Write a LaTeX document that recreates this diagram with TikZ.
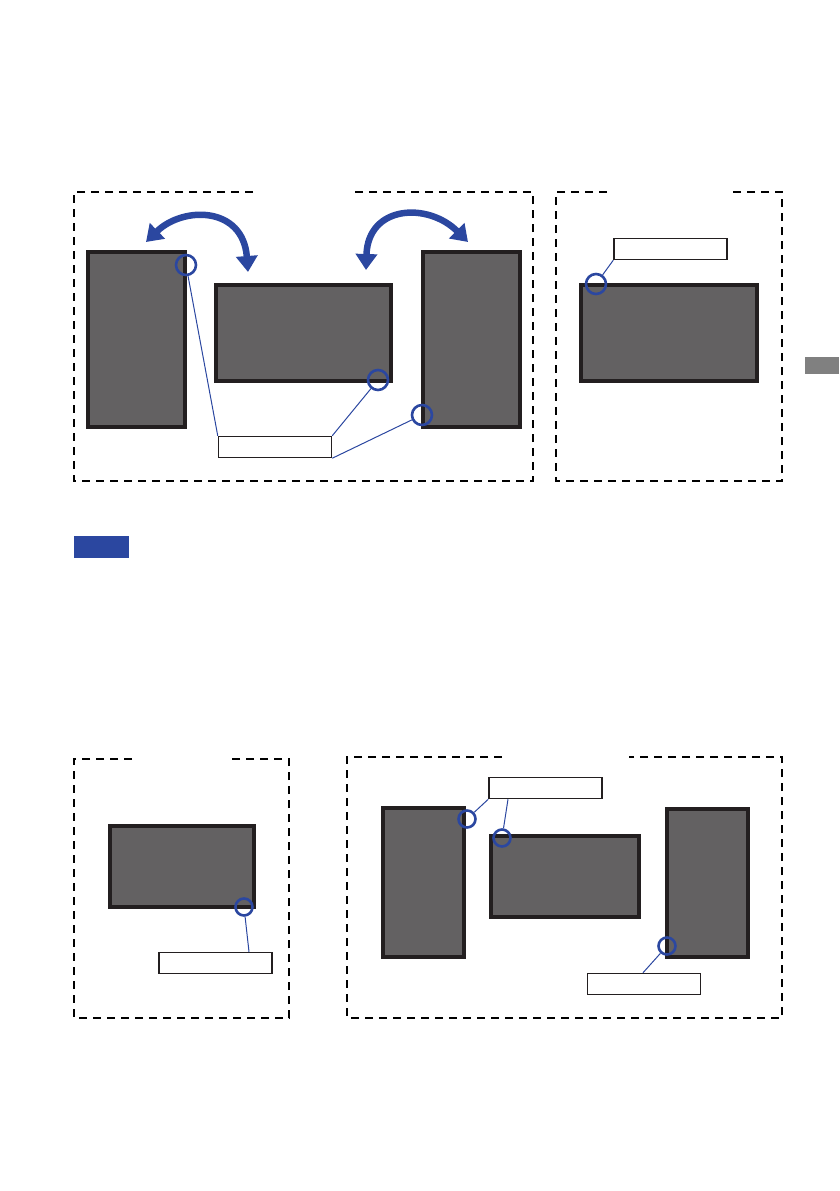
\documentclass[tikz,border=0pt]{standalone}
\usepackage{tikz}
\usetikzlibrary{positioning, arrows.meta}

\definecolor{ringblue}{HTML}{2B47A0}
\definecolor{panelgrey}{HTML}{636162}
\definecolor{panelrim}{HTML}{231F20}
\definecolor{tabgrey}{HTML}{808080}

\begin{document}
\begin{tikzpicture}[
      x=1pt, y=-1pt,
      frame_line/.style={draw=black, line width=1.3pt, dash pattern=on 8pt off 6pt},
      panel_box/.style={rectangle, draw=panelrim, fill=panelgrey, line width=4pt, inner sep=0pt},
      ring_node/.style={circle, draw=ringblue, line width=2.6pt, minimum size=20pt, inner sep=0pt},
      ring_small/.style={ring_node, minimum size=17pt},
      tag_box/.style={rectangle, draw=panelrim, fill=white, line width=1.5pt, minimum width=113pt, minimum height=21pt, inner sep=0pt},
      lead_line/.style={draw=ringblue, line width=1pt},
      swing_arrow/.style={draw=ringblue, line width=6.5pt, {Triangle[width=21pt, length=16pt]}-{Triangle[width=21pt, length=16pt]}}
    ]
      \useasboundingbox (0,0) rectangle (839,1191);

      % frames
      \draw[frame_line] (253,192) -- (74,192) -- (74,481) -- (533,481) -- (533,192) -- (353,192);
      \draw[frame_line] (607,192) -- (556,192) -- (556,481) -- (782,481) -- (782,192) -- (731,192);
      \draw[frame_line] (132,759) -- (74,759) -- (74,1018) -- (289,1018) -- (289,759) -- (232,759);
      \draw[frame_line] (502,757) -- (347,757) -- (347,1018) -- (782,1018) -- (782,757) -- (629,757);

      % side tab and note bar
      \fill[tabgrey] (805,357) rectangle (839,374);
      \node[rectangle, fill=ringblue, minimum width=55pt, minimum height=22pt, inner sep=0pt] (note) at (101.5,547) {};

      % top left frame
      \node[panel_box, minimum width=97pt, minimum height=175pt] (pa) at (136.5,339.5) {};
      \node[panel_box, minimum width=175pt, minimum height=96pt] (pb) at (303.5,333) {};
      \node[panel_box, minimum width=97pt, minimum height=175pt] (pc) at (471.5,339.5) {};
      \node[ring_node] (ra) at (186,265) {};
      \node[ring_node] (rb) at (378,380) {};
      \node[ring_node] (rc) at (422,415) {};
      \node[tag_box] (ta) at (275,447) {};
      \draw[lead_line] (ra) -- (ta.north west);
      \draw[lead_line] (rb) -- (ta.north east);
      \draw[lead_line] (rc) -- (ta.south east);

      \coordinate (sa) at (146,242);
      \coordinate (ea) at (248,272);
      \coordinate (sb) at (366,270);
      \coordinate (eb) at (468,242);
      \draw[swing_arrow] (sa) .. controls (183,206) and (243,206) .. (ea);
      \draw[swing_arrow] (sb) .. controls (368,205) and (428,202) .. (eb);

      % top right frame
      \node[panel_box, minimum width=176pt, minimum height=96pt] (pd) at (669,333) {};
      \node[ring_node] (rd) at (596,284) {};
      \node[tag_box] (tb) at (670.5,249) {};
      \draw[lead_line] (rd) -- (tb.south west);

      % bottom left frame
      \node[panel_box, minimum width=144pt, minimum height=81pt] (pe) at (182,866.5) {};
      \node[ring_small] (re) at (244,907) {};
      \node[tag_box] (tc) at (215.5,963) {};
      \draw[lead_line] (re) -- (tc.north -| 249,0);

      % bottom right frame
      \node[panel_box, minimum width=81pt, minimum height=149pt] (pf) at (423.5,882.5) {};
      \node[panel_box, minimum width=148pt, minimum height=81pt] (pg) at (565,876.5) {};
      \node[panel_box, minimum width=81pt, minimum height=148pt] (ph) at (707.5,883) {};
      \node[ring_small] (rf) at (467,819) {};
      \node[ring_small] (rg) at (502,838) {};
      \node[ring_small] (rh) at (667,946) {};
      \node[tag_box] (td) at (545.5,788) {};
      \node[tag_box] (te) at (644,984) {};
      \draw[lead_line] (rf) -- (td.south west);
      \draw[lead_line] (rg) -- (td.south -| 508,0);
      \draw[lead_line] (rh) -- (te.north -| 643,0);
    \end{tikzpicture}
\end{document}
